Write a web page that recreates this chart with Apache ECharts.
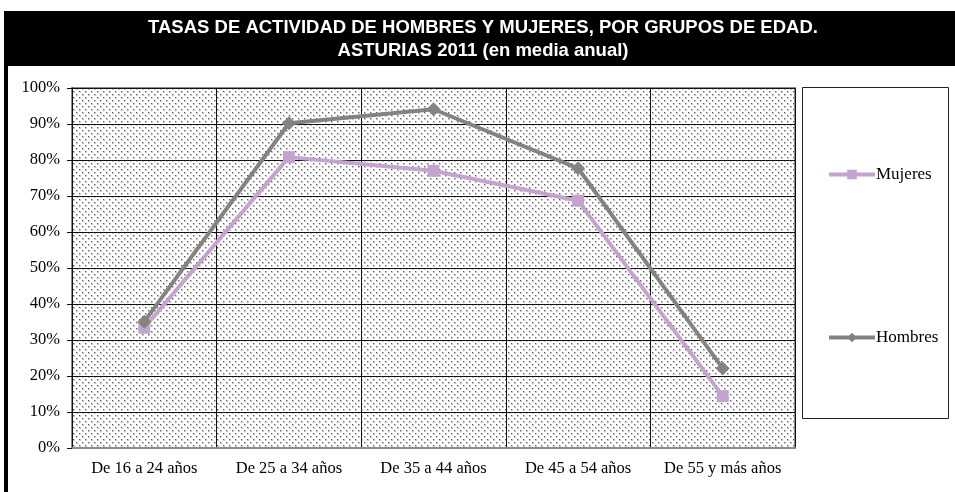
<!DOCTYPE html>
<html>
<head>
<meta charset="utf-8">
<script src="https://cdn.jsdelivr.net/npm/echarts@6/dist/echarts.min.js"></script>
<style>
  html, body { margin: 0; padding: 0; background: #fff; }
  #main { width: 955px; height: 492px; }
</style>
</head>
<body>
<div id="main"></div>
<script>
var categories = ['De 16 a 24 años', 'De 25 a 34 años', 'De 35 a 44 años', 'De 45 a 54 años', 'De 55 y más años'];
var mujeres = [33.4, 80.8, 77.0, 68.7, 14.4];
var hombres = [35.1, 90.2, 94.1, 77.7, 22.1];
var yTicks = [0, 10, 20, 30, 40, 50, 60, 70, 80, 90, 100];

// trama de puntos del fondo del grafico
var tile = document.createElement('canvas');
tile.width = 6; tile.height = 6;
var ctx = tile.getContext('2d');
ctx.fillStyle = '#fff';
ctx.fillRect(0, 0, 6, 6);
ctx.fillStyle = '#c8c8c8';
ctx.fillRect(1, 1, 2, 2);
ctx.fillRect(4, 4, 2, 2);
ctx.fillStyle = '#5a5a5a';
ctx.fillRect(1, 1, 1, 1);
ctx.fillRect(4, 4, 1, 1);

var myChart = echarts.init(document.getElementById('main'));
var serif = '"Liberation Serif", "DejaVu Serif", serif';

myChart.setOption({
    animation: false,
    backgroundColor: '#fff',
    grid: {
        left: 72, right: 160, top: 88, bottom: 44,
        show: true,
        backgroundColor: { image: tile, repeat: 'repeat' },
        borderColor: '#8c8c8c',
        borderWidth: 2
    },
    legend: {
        orient: 'vertical',
        left: 822,
        top: 161,
        itemGap: 146,
        itemWidth: 46,
        itemHeight: 12,
        lineStyle: { width: 4 },
        textStyle: { fontFamily: serif, fontSize: 17, color: '#000', padding: [0, 0, 0, -4] },
        data: ['Mujeres', 'Hombres']
    },
    xAxis: {
        type: 'category',
        data: categories,
        boundaryGap: true,
        axisLine: { lineStyle: { color: '#8c8c8c', width: 2 } },
        axisTick: { show: false },
        axisLabel: { interval: 0, fontFamily: serif, fontSize: 16.5, color: '#000', margin: 12 },
        splitLine: { show: true, interval: 0, lineStyle: { color: '#111', width: 1 } }
    },
    yAxis: {
        type: 'value',
        min: yTicks[0],
        max: yTicks[yTicks.length - 1],
        interval: 10,
        axisLine: { show: true, lineStyle: { color: '#111', width: 1 } },
        axisTick: { show: true, length: 5, lineStyle: { color: '#111' } },
        axisLabel: { fontFamily: serif, fontSize: 16.5, color: '#000', margin: 12, formatter: '{value}%' },
        splitLine: { show: true, lineStyle: { color: '#111', width: 1 } }
    },
    series: [
        {
            name: 'Mujeres',
            type: 'line',
            data: mujeres,
            symbol: 'rect',
            symbolSize: 12,
            itemStyle: { color: '#c4a4cf' },
            lineStyle: { color: '#c4a4cf', width: 4 },
            z: 3
        },
        {
            name: 'Hombres',
            type: 'line',
            data: hombres,
            symbol: 'diamond',
            symbolSize: 14,
            itemStyle: { color: '#858380' },
            lineStyle: { color: '#858380', width: 4 },
            z: 4
        }
    ],
    graphic: [
        { type: 'rect', shape: { x: 4, y: 11, width: 951, height: 55 }, style: { fill: '#000' } },
        { type: 'rect', shape: { x: 4, y: 66, width: 4, height: 426 }, style: { fill: '#000' } },
        { type: 'text', x: 483, y: 28, style: { text: 'TASAS DE ACTIVIDAD DE HOMBRES Y MUJERES, POR GRUPOS DE EDAD.', fill: '#fff', font: 'bold 18.5px "Liberation Sans", Arial, sans-serif', align: 'center', verticalAlign: 'middle' } },
        { type: 'text', x: 483, y: 51, style: { text: 'ASTURIAS 2011 (en media anual)', fill: '#fff', font: 'bold 18.5px "Liberation Sans", Arial, sans-serif', align: 'center', verticalAlign: 'middle' } },
        { type: 'rect', z: -1, shape: { x: 802.5, y: 87.5, width: 146, height: 331 }, style: { fill: '#fff', stroke: '#222', lineWidth: 1 } }
    ]
});
</script>
</body>
</html>
